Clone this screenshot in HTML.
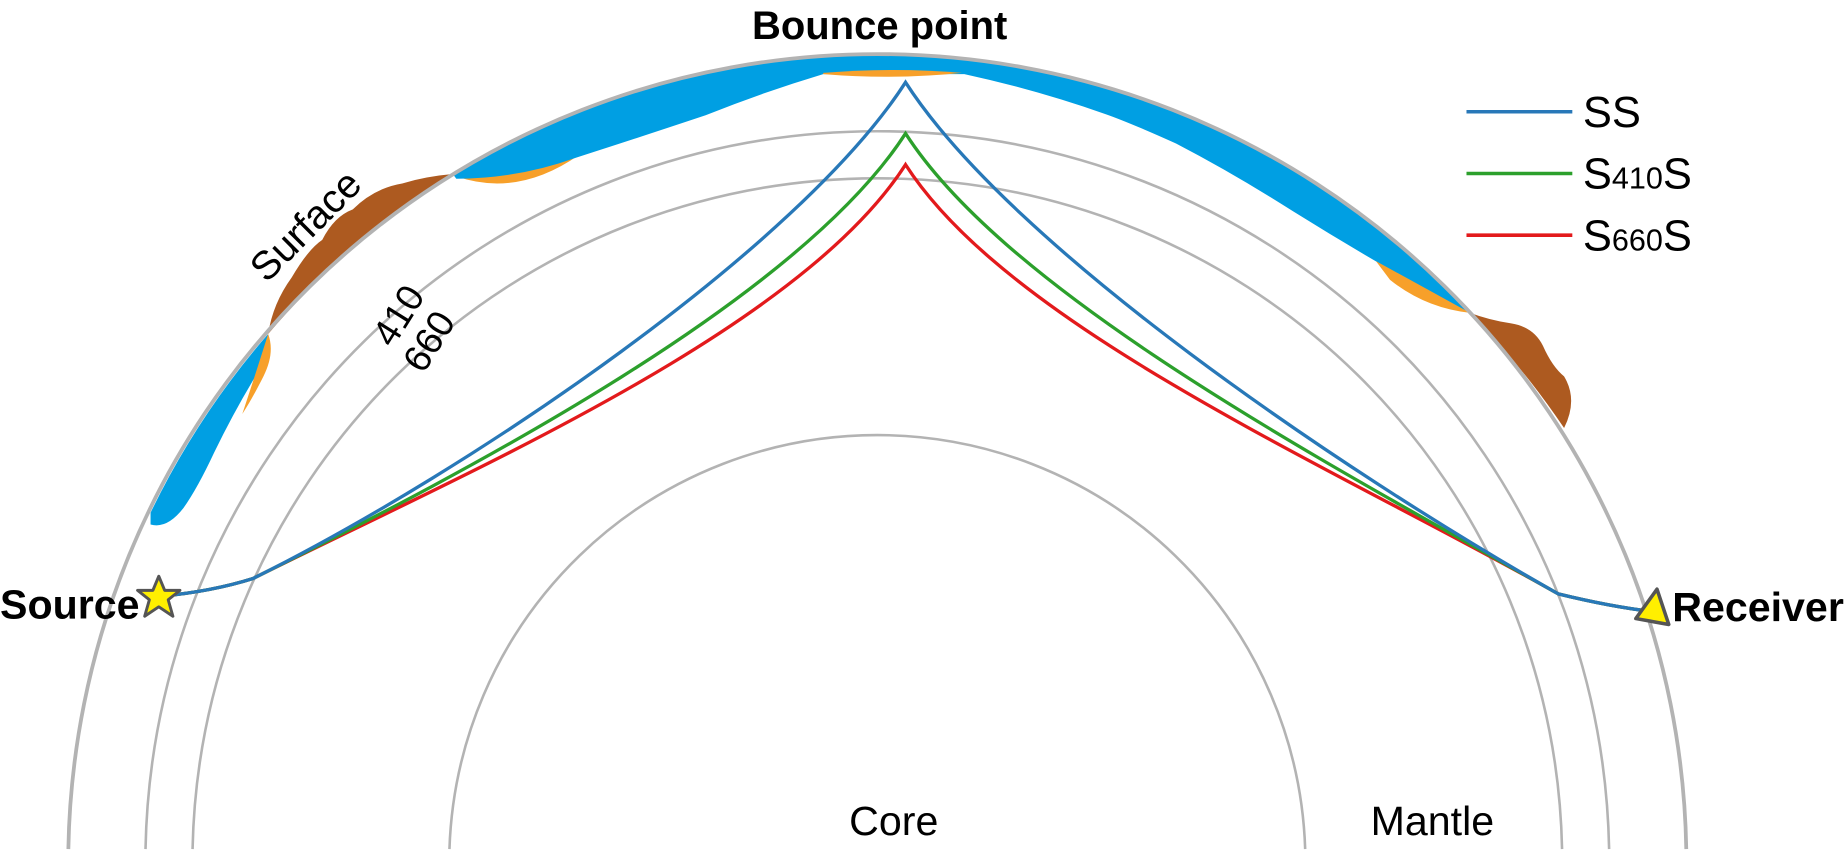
<!DOCTYPE html>
<html><head><meta charset="utf-8"><style>
html,body{margin:0;padding:0;background:#fff}
svg{display:block}
text{font-family:"Liberation Sans",Arial,sans-serif}
</style></head><body>
<svg id="chart" width="1844" height="866" viewBox="0 0 1568 736.4" xmlns="http://www.w3.org/2000/svg">
<g id="topo">
<path fill="#f7a02a" d="M388,150 Q440,168 492,132 Q440,150 388,150 Z"/>
<path fill="#009fe3" d="M385,148 A688,688 0 0 1 1250,266 Q1215,248 1180,228 Q1140,205 1100,180 Q1050,148 1000,122 Q960,104 940,97 Q880,76 820,63 L700,63 Q650,78 600,98 Q540,118 490,134 Q440,152 388,152 Z"/>
<path fill="#f7a02a" d="M700,62 Q760,57 818,62 Q760,68 700,63 Z"/>
<path fill="#f7a02a" d="M1170,222 Q1210,244 1250,266 Q1212,262 1182,238 Z"/>
<path fill="#009fe3" d="M128,436 A688,688 0 0 1 228,284 Q226,305 216,322 Q198,352 182,385 Q168,415 156,432 Q142,450 128,446 Z"/>
<path fill="#f7a02a" d="M228,284 Q234,300 224,320 Q214,340 206,352 Q216,322 228,284 Z"/>
<path fill="#ad5a20" d="M228,284 Q232,258 248,236 Q262,212 274,204 Q284,184 300,178 Q318,160 342,156 Q362,150 385,148 A688,688 0 0 0 228,284 Z"/>
<path fill="#ad5a20" d="M1250,266 Q1266,272 1285,275 Q1304,278 1312,294 Q1320,312 1330,320 Q1342,340 1330,364 A688,688 0 0 0 1250,266 Z"/>
</g>
<g id="circles" fill="none" stroke="#b3b3b3"></g>
<g id="rays" fill="none" stroke-width="2.8"></g>
<polygon fill="#ffef00" stroke="#555" stroke-width="2.5" stroke-linejoin="round" points="135,490 140,502 153,502 143,510 147,524 135,516 123,524 127,510 117,502 130,502"/>
<polygon fill="#ffef00" stroke="#555" stroke-width="3" stroke-linejoin="round" points="1409,501 1419,531 1391,526"/>
<text x="748" y="33" font-size="34" font-weight="bold" text-anchor="middle">Bounce point</text>
<text x="0" y="526" font-size="35" font-weight="bold">Source</text>
<text x="1422" y="528" font-size="35" font-weight="bold">Receiver</text>
<text x="760" y="710" font-size="35" text-anchor="middle">Core</text>
<text x="1218" y="710" font-size="35" text-anchor="middle">Mantle</text>
<text x="268" y="200" font-size="34" text-anchor="middle" transform="rotate(-45 268 200)">Surface</text>
<text x="348" y="274" font-size="32" text-anchor="middle" transform="rotate(-58 348 274)">410</text>
<text x="374" y="296" font-size="32" text-anchor="middle" transform="rotate(-58 374 296)">660</text>
<g id="legend"></g>
</svg>
<script>
const phases = ['SS', 'S410S', 'S660S'];
const subs = ['', '410', '660'];
const bounceDepthKm = [0, 410, 660];
const colors = ['#2878b8', '#2ca02c', '#e31a1c'];
const discDepthKm = [0, 410, 660, 2891];
const discNames = ['surface', '410', '660', 'core'];

const NS = 'http://www.w3.org/2000/svg';
const CX = 746, CY = 734, RE = 688;
// schematic (non-linear) depth-to-radius scale
function rScale(km) {
  if (km <= 660) return RE - km * 0.16;
  return 582 - (km - 660) * 0.0977;
}
const yBounce = km => 70 + km * 0.106;

const circ = document.getElementById('circles');
discDepthKm.forEach((d, i) => {
  const r = rScale(d);
  const dy = 722 - CY;
  const dx = Math.sqrt(r * r - dy * dy);
  const p = document.createElementNS(NS, 'path');
  p.setAttribute('d', `M${CX - dx},722 A${r},${r} 0 0 1 ${CX + dx},722`);
  p.setAttribute('stroke-width', i === 0 ? 3.2 : 2.2);
  
  
  circ.appendChild(p);
});

const rays = document.getElementById('rays');
for (let i = phases.length - 1; i >= 0; i--) {
  const py = yBounce(bounceDepthKm[i]);
  const bx = 770;
  const d = `M137,507 Q180,503 215,492 C400,400 680,${py + 140} ${bx},${py} C860,${py + 140} 1140,400 1325,505 Q1370,516 1405,520`;
  const p = document.createElementNS(NS, 'path');
  p.setAttribute('d', d);
  p.setAttribute('stroke', colors[i]);
  
  
  rays.appendChild(p);
}

const leg = document.getElementById('legend');
phases.forEach((ph, i) => {
  const y = 95 + i * 52.5;
  const l = document.createElementNS(NS, 'line');
  l.setAttribute('x1', 1247); l.setAttribute('x2', 1337);
  l.setAttribute('y1', y); l.setAttribute('y2', y);
  l.setAttribute('stroke', colors[i]); l.setAttribute('stroke-width', 3);
  
  
  leg.appendChild(l);
  const t = document.createElementNS(NS, 'text');
  t.setAttribute('x', 1346); t.setAttribute('y', y + 13);
  t.setAttribute('font-size', 37);
  
  
  if (subs[i]) {
    t.innerHTML = `S<tspan font-size="26">${subs[i]}</tspan>S`;
  } else {
    t.textContent = ph;
  }
  leg.appendChild(t);
});
</script>
</body></html>
